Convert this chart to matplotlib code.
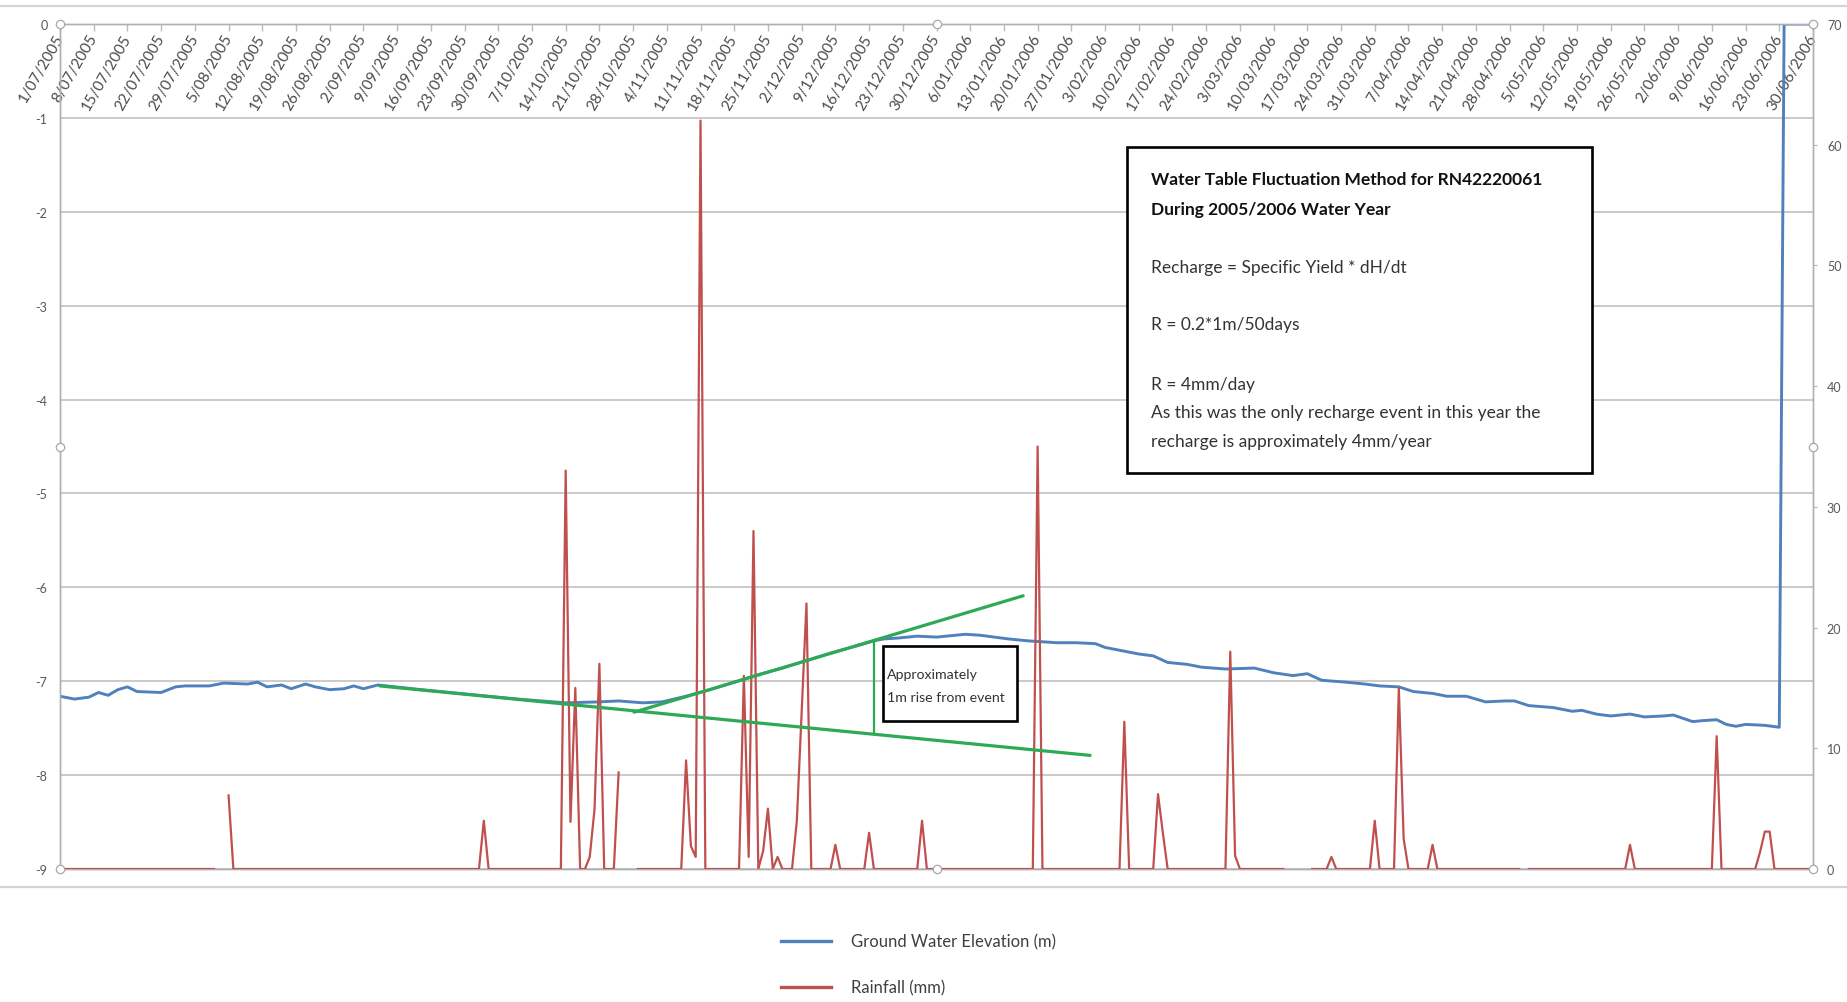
import numpy as np
import matplotlib
matplotlib.use("Agg")
import matplotlib.pyplot as plt
from matplotlib.patches import Rectangle
from matplotlib.lines import Line2D

plt.rcParams['font.family'] = ['Lato', 'DejaVu Sans']
plt.rcParams['axes.unicode_minus'] = False

# ---------------------------------------------------------------- data
# weekly labels along the date axis (day 0 = 1 July 2005)
date_labels = [
    "1/07/2005", "8/07/2005", "15/07/2005", "22/07/2005", "29/07/2005",
    "5/08/2005", "12/08/2005", "19/08/2005", "26/08/2005",
    "2/09/2005", "9/09/2005", "16/09/2005", "23/09/2005", "30/09/2005",
    "7/10/2005", "14/10/2005", "21/10/2005", "28/10/2005",
    "4/11/2005", "11/11/2005", "18/11/2005", "25/11/2005",
    "2/12/2005", "9/12/2005", "16/12/2005", "23/12/2005", "30/12/2005",
    "6/01/2006", "13/01/2006", "20/01/2006", "27/01/2006",
    "3/02/2006", "10/02/2006", "17/02/2006", "24/02/2006",
    "3/03/2006", "10/03/2006", "17/03/2006", "24/03/2006", "31/03/2006",
    "7/04/2006", "14/04/2006", "21/04/2006", "28/04/2006",
    "5/05/2006", "12/05/2006", "19/05/2006", "26/05/2006",
    "2/06/2006", "9/06/2006", "16/06/2006", "23/06/2006", "30/06/2006",
]

# groundwater elevation readings (day of water year, m)
gw_day = [0, 3, 6, 8, 10, 12, 14, 16, 21, 24, 26, 31, 34, 39, 41, 43, 46, 48,
          51, 53, 56, 59, 61, 63, 66, 75, 85, 95, 100, 105, 112, 116, 121, 125,
          130, 135, 140, 145, 150, 155, 160, 165, 169, 171, 174, 178, 182, 188,
          191, 194, 197, 201, 204, 207, 211, 215, 217, 221, 224, 227, 230, 234,
          237, 242, 248, 252, 256, 259, 262, 267, 271, 274, 278, 281, 285, 288,
          292, 296, 300, 302, 305, 310, 314, 316, 319, 322, 326, 329, 333, 335,
          339, 341, 344, 346, 348, 350, 354, 357, 358, 364]
gw_level = [-7.16, -7.19, -7.17, -7.12, -7.15, -7.09, -7.06, -7.11, -7.12,
            -7.06, -7.05, -7.05, -7.02, -7.03, -7.01, -7.06, -7.04, -7.08,
            -7.03, -7.06, -7.09, -7.08, -7.05, -7.08, -7.04, -7.09, -7.14,
            -7.19, -7.21, -7.23, -7.22, -7.21, -7.23, -7.22,
            -7.16, -7.09, -7.01, -6.93, -6.86, -6.78, -6.70, -6.63, -6.57,
            -6.55, -6.54, -6.52, -6.53, -6.50, -6.51, -6.53, -6.55, -6.57,
            -6.58, -6.59, -6.59, -6.60, -6.64, -6.68, -6.71, -6.73, -6.80,
            -6.82, -6.85, -6.87, -6.86, -6.91, -6.94, -6.92, -6.99, -7.01,
            -7.03, -7.05, -7.06, -7.11, -7.13, -7.16, -7.16, -7.22, -7.21,
            -7.21, -7.26, -7.28, -7.32, -7.31, -7.35, -7.37, -7.35, -7.38,
            -7.37, -7.36, -7.43, -7.42, -7.41, -7.46, -7.48, -7.46, -7.47,
            -7.49, 0.0, 0.0]

# daily rainfall: wet days and depth (mm); every other recorded day is dry
rain_day = [35, 88, 105, 106, 107, 110, 111, 112, 116, 130, 131, 132, 133,
            142, 143, 144, 146, 147, 149, 153, 154, 155, 161, 168, 179, 203,
            221, 228, 229, 243, 244, 264, 273, 278, 279, 285, 326, 344, 353,
            354, 355]
rain_mm = [6.1, 4.0, 33.0, 3.9, 15.0, 1.0, 5.0, 17.0, 8.0, 9.0, 1.9, 1.0, 62.0,
           16.0, 1.0, 28.0, 1.5, 5.0, 1.0, 4.0, 13.0, 22.0, 2.0, 3.0, 4.0, 35.0,
           12.2, 6.2, 3.0, 18.0, 1.1, 1.0, 4.0, 15.0, 2.5, 2.0, 2.0, 11.0, 1.4,
           3.1, 3.1]
# days without a rainfall record
rain_missing = [33, 34, 117, 118, 119, 255, 256, 257, 258, 259, 304]

# hand-drawn recharge estimate: falling trend, rising limb, 1 m marker
trend_fall_day, trend_fall_m = [66.4, 213.9], [-7.05, -7.79]
trend_rise_day, trend_rise_m = [119.2, 200.0], [-7.33, -6.09]
rise_day, rise_m = [169.0, 169.0], [-6.57, -7.55]

n_days = 365
days = np.arange(n_days)
rain = np.zeros(n_days)
rain[rain_day] = rain_mm
rain[rain_missing] = np.nan

# ---------------------------------------------------------------- layout
W, H = 1847, 1003
fig = plt.figure(figsize=(W / 100, H / 100), dpi=100)


def fx(px):
    return px / W


def fy(py):
    return 1 - py / H


L, R, T, B = 60, 1813, 25, 870
ax = fig.add_axes([fx(L), fy(B), fx(R) - fx(L), fy(T) - fy(B)])
ax2 = ax.twinx()

BLUE, RED, GREEN = '#4f81bd', '#c0504d', '#2eaa55'
GRID, TXT = '#bcbcbc', '#595959'

# primary axis: groundwater elevation
ax.plot(gw_day, gw_level, color=BLUE, lw=2.1, zorder=3)
ax.set_xlim(0, n_days - 1)
ax.set_ylim(-9, 0)
ax.set_yticks(range(0, -10, -1))
ax.set_yticklabels([str(v) for v in range(0, -10, -1)])
ax.grid(axis='y', color=GRID, lw=1.1)
ax.set_axisbelow(True)
ax.tick_params(axis='y', length=0, pad=9, labelsize=9, labelcolor=TXT)

ax.set_xticks(np.arange(len(date_labels)) * 7)
ax.set_xticklabels(date_labels)
ax.tick_params(axis='x', bottom=False, labelbottom=False, top=True,
               labeltop=True, direction='in', length=5, color=GRID,
               width=1.0, pad=-8, labelsize=11, labelcolor='#4a4a4a')
for lbl in ax.get_xticklabels():
    lbl.set_rotation(60)
    lbl.set_ha('right')
    lbl.set_va('center')
    lbl.set_rotation_mode('anchor')

for ax_ in (ax, ax2):
    for sp in ax_.spines.values():
        sp.set_color('#b0b0b0')
        sp.set_linewidth(1.0)

# secondary axis: rainfall
ax2.plot(days, rain, color=RED, lw=1.6, zorder=3)
ax2.set_ylim(0, 70)
ax2.set_yticks(range(0, 71, 10))
ax2.tick_params(axis='y', length=3, width=0.8, color='#b0b0b0', pad=7,
                labelsize=9, labelcolor=TXT)

# recharge construction lines
ax2.plot(trend_fall_day, trend_fall_m, color=GREEN, lw=2.3,
         transform=ax.transData, zorder=6, solid_capstyle='round')
ax2.plot(trend_rise_day, trend_rise_m, color=GREEN, lw=2.3,
         transform=ax.transData, zorder=6, solid_capstyle='round')
ax2.plot(rise_day, rise_m, color=GREEN, lw=1.6,
         transform=ax.transData, zorder=6)

# plot-area selection handles
hx = [0, 0, 0, 0.5, 0.5, 1, 1, 1]
hy = [0, 0.5, 1, 0, 1, 0, 0.5, 1]
ax2.plot(hx, hy, transform=ax2.transAxes, ls='none', marker='o', ms=6,
         mfc='white', mec='#a8a8a8', mew=0.9, clip_on=False, zorder=20)

# chart-area frame lines
for yy in (7, 888):
    fig.add_artist(Line2D([0, 1], [fy(yy), fy(yy)], transform=fig.transFigure,
                          color='#d4d4d4', lw=1.6))

# explanation box
fig.add_artist(Rectangle((fx(1127), fy(474)), fx(1592) - fx(1127),
                         fy(148) - fy(474), transform=fig.transFigure,
                         fc='white', ec='black', lw=1.9, zorder=5))
box_lines = [
    ("Water Table Fluctuation Method for RN42220061", 180, 'bold', '#111111'),
    ("During 2005/2006 Water Year", 210, 'bold', '#111111'),
    ("Recharge = Specific Yield * dH/dt", 268, 'normal', '#333333'),
    ("R = 0.2*1m/50days", 325, 'normal', '#333333'),
    ("R = 4mm/day", 385, 'normal', '#333333'),
    ("As this was the only recharge event in this year the", 413, 'normal',
     '#333333'),
    ("recharge is approximately 4mm/year", 442, 'normal', '#333333'),
]
for s, yy, wt, col in box_lines:
    fig.text(fx(1151), fy(yy), s, fontsize=12.5, fontweight=wt, color=col,
             ha='left', va='center', zorder=6)

# small note box beside the rise marker
fig.add_artist(Rectangle((fx(883), fy(722)), fx(1017) - fx(883),
                         fy(647) - fy(722), transform=fig.transFigure,
                         fc='white', ec='black', lw=1.9, zorder=5))
fig.text(fx(887), fy(675), "Approximately", fontsize=10.2, color='#333333',
         ha='left', va='center', zorder=6)
fig.text(fx(887), fy(698), "1m rise from event", fontsize=10.2,
         color='#333333', ha='left', va='center', zorder=6)

# legend below the chart
h_gw = Line2D([], [], color=BLUE, lw=2.4)
h_rain = Line2D([], [], color=RED, lw=2.4)
fig.legend([h_gw, h_rain], ["Ground Water Elevation (m)", "Rainfall (mm)"],
           loc='center left', bbox_to_anchor=(fx(781), fy(965.5)),
           frameon=False, fontsize=12, handlelength=3.0,
           handletextpad=1.2, labelspacing=1.8, borderpad=0,
           borderaxespad=0, labelcolor='#404040')

fig.savefig("out.png", dpi=100)
